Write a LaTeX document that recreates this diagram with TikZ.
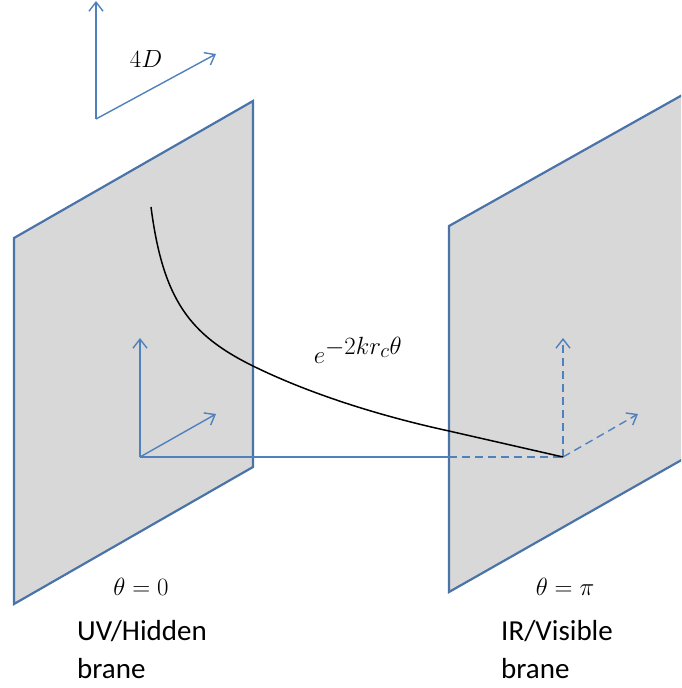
\documentclass[tikz,border=0pt]{standalone}
\usepackage{amsmath,amssymb}
\usepackage{fontspec}
\setsansfont{Carlito}
\usetikzlibrary{arrows.meta}
\definecolor{braneblue}{RGB}{79,129,189}
\definecolor{braneedge}{RGB}{74,115,168}
\definecolor{branegray}{RGB}{216,216,216}
\tikzset{
	brane/.style={
		fill=branegray, draw=braneedge, line width=2.2pt, line join=miter
	},
	axisA/.style={
		draw=braneblue, line width=1.4pt
	},
	tipA/.style={
		-{Straight Barb[length=9pt,width=14pt,line width=1.4pt]}
	},
	dashA/.style={
		dash pattern=on 8pt off 5pt
	},
	mathA/.style={
		inner sep=0pt, text=black
	},
	nameA/.style={
		inner sep=0pt, anchor=west, align=left, font={\fontsize{29}{38}\selectfont\sffamily}
	},
}

\begin{document}
\begin{tikzpicture}[x=1pt, y=-1pt]
\useasboundingbox (0,0) rectangle (681,688);
\coordinate (uvA) at (14,238); \coordinate (uvB) at (253,101);
\coordinate (uvC) at (253,467); \coordinate (uvD) at (14,604);
\coordinate (irA) at (449,226); \coordinate (irB) at (685,93.5);
\coordinate (irC) at (685,458); \coordinate (irD) at (449,592);
\filldraw [brane] (uvA) -- (uvB) -- (uvC) -- (uvD) -- cycle;
\begin{scope}
\clip (0,0) rectangle (681,688);
\filldraw [brane] (irA) -- (irB) -- (irC) -- (irD) -- cycle;
\end{scope}
% 4D axes
\coordinate (topO) at (96,119); \coordinate (topY) at (96,1); \coordinate (topX) at (216,54);
\draw [axisA, tipA] (topO) -- (topY);
\draw [axisA, tipA] (topO) -- (topX);
% axes on the two branes
\coordinate (uvO) at (140,457); \coordinate (uvY) at (140,338); \coordinate (uvX) at (216,414);
\coordinate (irO) at (563,457); \coordinate (irY) at (563,338); \coordinate (irX) at (638,414);
\coordinate (cross) at (449,457);
\draw [axisA, tipA] (uvO) -- (uvY);
\draw [axisA, tipA] (uvO) -- (uvX);
\draw [axisA] (uvO) -- (cross);
\draw [axisA, dashA] (cross) -- (irO);
\draw [axisA, dashA, tipA] (irO) -- (irY);
\draw [axisA, dashA, tipA] (irO) -- (irX);
% warp factor
\coordinate (warp) at (151,207);
\draw [black, line width=1.5pt] (warp) .. controls (163,300) and (190,335) .. (253,366)
	.. controls (310,394) and (380,416) .. (449,431) -- (irO);
\node [mathA, font={\fontsize{40}{40}\selectfont}] (labD) at (146,59) {$4D$};
\node [mathA, font={\fontsize{44}{44}\selectfont}] (labW) at (358,350) {$e^{-2kr_c\theta}$};
\node [mathA, font={\fontsize{31}{31}\selectfont}] (labU) at (141,587) {$\theta=0$};
\node [mathA, font={\fontsize{31}{31}\selectfont}] (labI) at (565,587) {$\theta=\pi$};
\node [nameA] (nameU) at (77,650) {UV/Hidden\\brane};
\node [nameA] (nameI) at (501,650) {IR/Visible\\brane};
\end{tikzpicture}
\end{document}
